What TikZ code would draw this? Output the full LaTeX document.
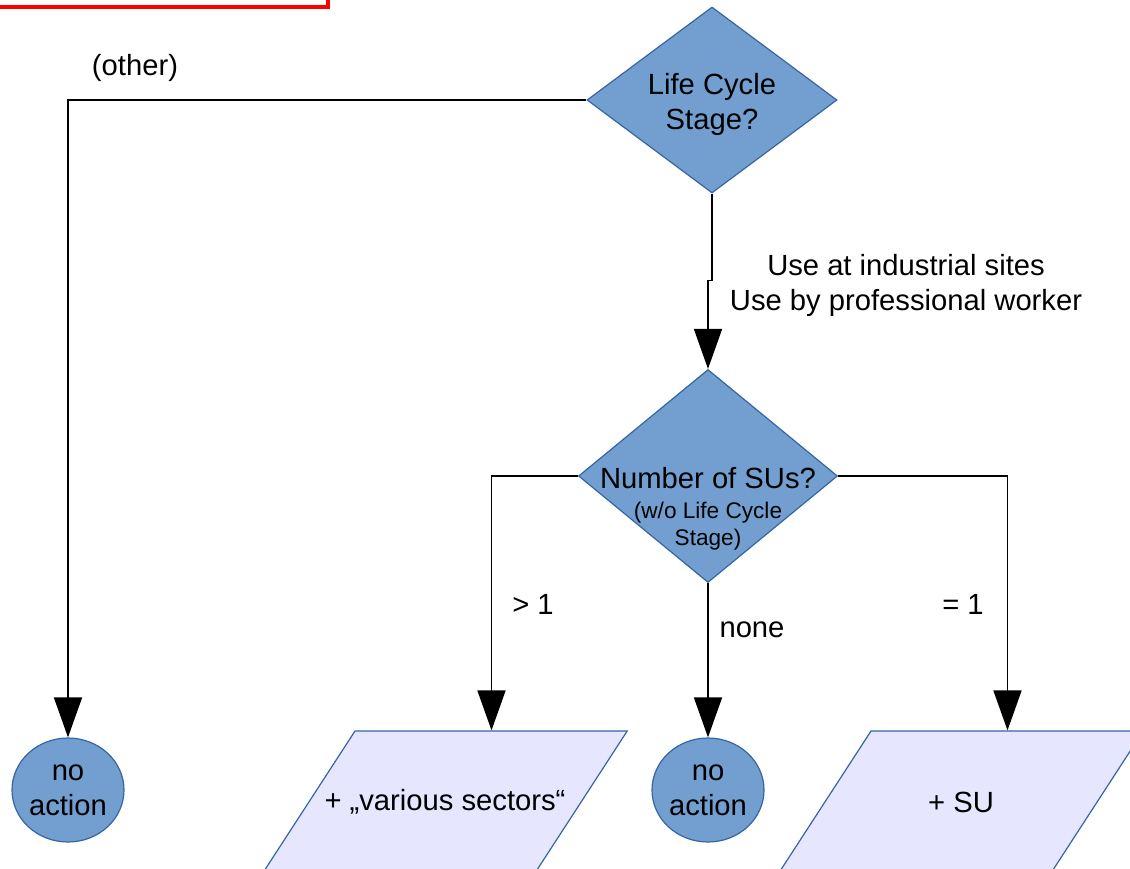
\documentclass[tikz,border=0pt]{standalone}
\usepackage{fontspec}
\setmainfont{Liberation Sans}
\usetikzlibrary{shapes.geometric,arrows.meta}
\definecolor{dblue}{HTML}{3465A4}
\definecolor{mblue}{HTML}{729FCF}
\definecolor{lilac}{HTML}{E6E6FF}
\tikzstyle{decision}=[diamond,fill=mblue,draw=dblue,line width=0.6pt,inner sep=0pt]
\tikzstyle{terminal}=[ellipse,fill=mblue,draw=dblue,line width=0.6pt,minimum width=56pt,minimum height=52pt,inner sep=0pt,align=center]
\tikzstyle{data}=[trapezium,trapezium left angle=57,trapezium right angle=123,fill=lilac,draw=dblue,line width=0.6pt,inner xsep=45pt,inner ysep=35.5pt]
\tikzstyle{flow}=[-{Triangle[length=20pt,width=14pt]},line width=0.85pt]
\tikzstyle{caption}=[inner sep=0pt,align=center]
\pgfdeclarelayer{edgelayer}
\pgfdeclarelayer{nodelayer}
\pgfsetlayers{edgelayer,nodelayer,main}

\begin{document}
\begin{tikzpicture}[x=25pt,y=25pt,font=\fontsize{14.6}{17.5}\selectfont]
	\useasboundingbox (0,0) rectangle (22.6,-17.36);
	\draw [red, line width=2pt] (-0.1, 0.2) rectangle (6.56, -0.14);
	\begin{pgfonlayer}{nodelayer}
		\node [style=decision, minimum width=125pt, minimum height=93pt] (0) at (14.24, -2) {};
		\node [style=caption] at (14.24, -2.08) {Life Cycle\\Stage?};
		\node [style=decision, minimum width=129.5pt, minimum height=106.5pt] (1) at (14.16, -9.52) {};
		\node [style=caption] at (14.16, -10.18) {Number of SUs?\\[-2.5pt]{\fontsize{11.3}{13}\selectfont (w/o Life Cycle}\\[-4pt]{\fontsize{11.3}{13}\selectfont Stage)}};
		\node [style=terminal] (2) at (1.36, -15.8) {no\\action};
		\node [style=data] (3) at (8.9, -16.04) {};
		\node [style=caption] at (3) {+ „various sectors“};
		\node [style=terminal] (4) at (14.16, -15.8) {no\\action};
		\node [style=data] (5) at (19.22, -16.04) {};
		\node [style=caption] at (5) {+ SU};
		\node [style=caption] (6) at (2.7, -1.36) {(other)};
		\node [style=caption] (7) at (18.12, -5.7) {Use at industrial sites\\Use by professional worker};
		\node [style=caption] (8) at (10.66, -12.08) {> 1};
		\node [style=caption] (9) at (15.04, -12.6) {none};
		\node [style=caption] (10) at (19.26, -12.08) {= 1};
	\end{pgfonlayer}
	\begin{pgfonlayer}{edgelayer}
		\draw [style=flow] (0.west) -| (2.north);
		\draw [style=flow] (0.south) -- ++(0, -1.74) -| (1.north);
		\draw [style=flow] (1.west) -| (3.top side);
		\draw [style=flow] (1.south) -- (4.north);
		\draw [style=flow] (1.east) -| (5.top side);
	\end{pgfonlayer}
\end{tikzpicture}
\end{document}
